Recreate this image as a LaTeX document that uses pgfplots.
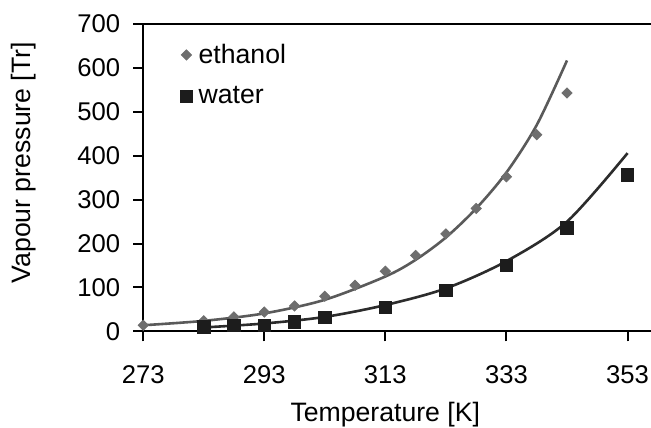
\documentclass[border=0pt]{standalone}
\usepackage{fontspec}
\setmainfont{Liberation Sans}
\usepackage{pgfplots}
\pgfplotsset{compat=1.18}

\definecolor{ethcol}{HTML}{6E6E6E}
\definecolor{ethline}{HTML}{5A5A5A}
\definecolor{watcol}{HTML}{1C1C1C}
\definecolor{watline}{HTML}{2C2C2C}

\newcommand{\tickfont}{\fontsize{12.8}{15}\selectfont}
\newcommand{\chartfont}{\fontsize{13.3}{16}\selectfont}

\begin{document}
\begin{tikzpicture}
\begin{axis}[
    at={(0,0)}, anchor=south west,
    scale only axis,
    width=254pt, height=153.5pt,
    xmin=273, xmax=357,
    ymin=0, ymax=700,
    axis x line*=bottom,
    axis y line*=left,
    axis line style={line width=1pt},
    tick style={black, line width=1pt},
    tick align=outside,
    major tick length=5pt,
    xtick={273,293,313,333,353},
    ytick={0,100,200,300,400,500,600,700},
    /pgf/number format/assume math mode=true,
    /pgf/number format/1000 sep={},
    ticklabel style={font=\tickfont},
    xticklabel style={anchor=center, yshift=-16.5pt},
    yticklabel style={anchor=east, xshift=-3pt},
    xlabel={Temperature [K]},
    ylabel={Vapour pressure [Tr]},
    label style={font=\chartfont},
    xlabel style={at={(axis description cs:0.476,-0.272)}, anchor=center},
    ylabel style={at={(axis description cs:-0.236,0.549)}, anchor=center},
    legend style={draw=none, fill=none, font=\chartfont,
        at={(axis description cs:0.072,0.95)}, anchor=north west,
        row sep=6pt, inner sep=0pt,
        nodes={inner xsep=3pt}},
    legend cell align=left,
    clip=false,
]

% trend lines
\addplot[ethline, line width=1.3pt, smooth, forget plot] coordinates {
    (273,14) (283,24) (293,41) (303,72) (313,125) (318,163)
    (323,214) (328,280) (333,362) (338,470) (343,617)
};
\addplot[watline, line width=1.3pt, smooth, forget plot] coordinates {
    (283,9) (293,18) (303,33) (313,60) (323,98) (333,160)
    (343,250) (353,406)
};

\addplot[only marks, mark=square*, mark size=1.8pt,
    mark options={rotate=45, fill=ethcol, draw=ethcol}] coordinates {
    (273,14) (283,24) (288,33) (293,44) (298,58) (303,80) (308,105)
    (313,137) (318,173) (323,222) (328,280) (333,352) (338,448) (343,543)
};
\addlegendentry{ethanol}

\addplot[only marks, mark=square*, mark size=3.1pt,
    mark options={fill=watcol, draw=watcol}] coordinates {
    (283,10) (288,13) (293,14) (298,22) (303,32) (313,55)
    (323,93) (333,150) (343,236) (353,356)
};
\addlegendentry{water}

\draw[line width=1pt] (rel axis cs:0,1) -- (rel axis cs:1,1);
\end{axis}
\pgfresetboundingbox
\path (-71.5pt,-48pt) rectangle (253.6pt,165.5pt);
\end{tikzpicture}
\end{document}
